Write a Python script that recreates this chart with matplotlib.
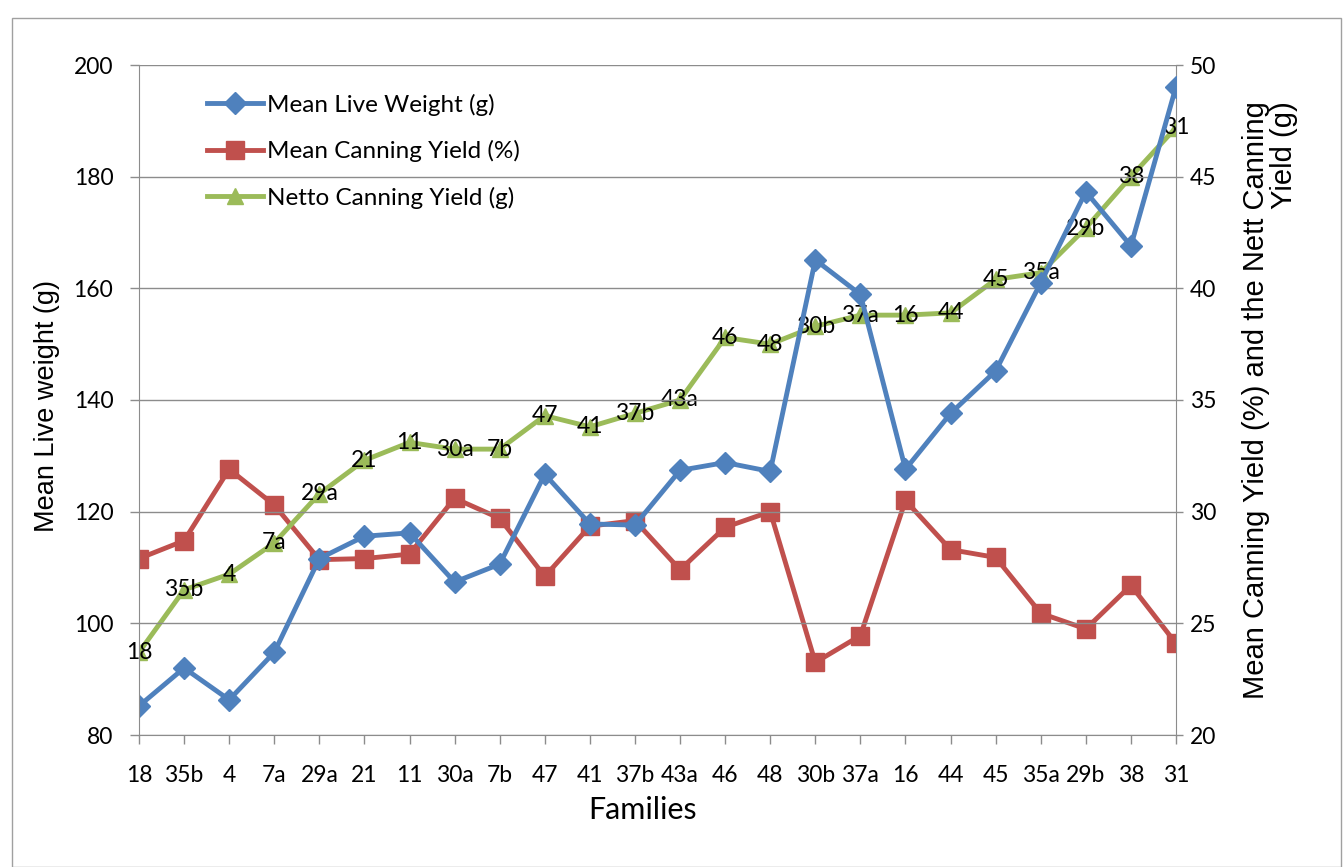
import matplotlib
matplotlib.use("Agg")
import matplotlib.pyplot as plt
from matplotlib.patches import Rectangle

families = ["18", "35b", "4", "7a", "29a", "21", "11", "30a", "7b", "47", "41", "37b",
            "43a", "46", "48", "30b", "37a", "16", "44", "45", "35a", "29b", "38", "31"]
live_weight = [85.2, 92.0, 86.3, 94.8, 111.6, 115.6, 116.2, 107.4, 110.6, 126.7, 117.8, 117.6,
               127.4, 128.8, 127.2, 165.1, 158.9, 127.6, 137.6, 145.2, 161.0, 177.3, 167.6, 196.1]
canning_pct = [27.9, 28.7, 31.9, 30.3, 27.85, 27.9, 28.1, 30.6, 29.7, 27.1, 29.35, 29.6,
               27.4, 29.3, 30.0, 23.25, 24.45, 30.5, 28.3, 27.95, 25.45, 24.75, 26.7, 24.1]
netto_yield = [23.7, 26.5, 27.2, 28.6, 30.8, 32.3, 33.1, 32.8, 32.8, 34.3, 33.8, 34.4,
               35.0, 37.8, 37.5, 38.3, 38.8, 38.8, 38.9, 40.4, 40.7, 42.7, 45.0, 47.2]

left_ticks = [80, 100, 120, 140, 160, 180, 200]
right_ticks = [20, 25, 30, 35, 40, 45, 50]

BLUE = "#4F81BD"
RED = "#C0504D"
GREEN = "#9BBB59"
TXT = "Lato"
AX = "Liberation Sans"
W, H = 1343, 867

fig = plt.figure(figsize=(W / 100, H / 100), dpi=100)
fig.patches.append(Rectangle((12 / W, 0), 1 - 14 / W, 1 - 18 / H, transform=fig.transFigure,
                             fill=False, edgecolor="#A0A0A0", linewidth=1.0))
ax = fig.add_axes([139 / W, 1 - 735 / H, (1176 - 139) / W, (735 - 65) / H])
ax2 = ax.twinx()

x = list(range(len(families)))
l1, = ax.plot(x, live_weight, color=BLUE, lw=3.5, marker="D", ms=11, label="Mean Live Weight (g)")
l2, = ax2.plot(x, canning_pct, color=RED, lw=3.5, marker="s", ms=12.5, label="Mean Canning Yield (%)")
l3, = ax2.plot(x, netto_yield, color=GREEN, lw=3.5, marker="^", ms=11, label="Netto Canning Yield (g)")
ax.set_zorder(ax2.get_zorder() + 1)
ax.patch.set_visible(False)

for xi, yi, lab in zip(x, netto_yield, families):
    ax2.text(xi, yi, lab, ha="center", va="center", fontsize=16.5, family=TXT, color="black", zorder=5)

ax.set_xlim(0, len(families) - 1)
ax.set_ylim(80, 200)
ax2.set_ylim(20, 50)
ax.set_yticks(left_ticks)
ax2.set_yticks(right_ticks)
ax.set_xticks(x)
ax.set_xticklabels(families)
ax.grid(axis="y", color="#8C8C8C", lw=1.0)
ax.set_axisbelow(True)

for a in (ax, ax2):
    for s in a.spines.values():
        s.set_visible(False)
    a.tick_params(labelsize=16.5, length=6.5, width=1, color="#8C8C8C", direction="out")
    for t in a.get_xticklabels() + a.get_yticklabels():
        t.set_family(TXT)
ax.spines["left"].set_visible(True)
ax.spines["left"].set_color("#8C8C8C")
ax.spines["bottom"].set_visible(True)
ax.spines["bottom"].set_color("#8C8C8C")
ax2.spines["right"].set_visible(True)
ax2.spines["right"].set_color("#8C8C8C")
ax.tick_params(axis="x", pad=15)
ax.tick_params(axis="y", pad=12)
ax2.tick_params(axis="y", pad=5, length=5)

fig.text(643 / W, 1 - 810 / H, "Families", fontsize=22, family=TXT, ha="center", va="center")
fig.text(47 / W, 1 - 406 / H, "Mean Live weight (g)", fontsize=19.5, family=AX,
         ha="center", va="center", rotation=90)
fig.text(1270 / W, 1 - 400 / H, "Mean Canning Yield (%) and the Nett Canning\nYield (g)",
         fontsize=21, family=AX, ha="center", va="center", rotation=90, multialignment="right",
         linespacing=1.0)

leg = ax.legend(handles=[l1, l2, l3], loc="upper left", bbox_to_anchor=(197 / W, 1 - 84 / H),
                bbox_transform=fig.transFigure, frameon=False, prop={"family": TXT, "size": 17.5},
                handlelength=2.3, handletextpad=0.2, labelspacing=1.0, borderaxespad=0)

fig.savefig("out.png", dpi=100)
